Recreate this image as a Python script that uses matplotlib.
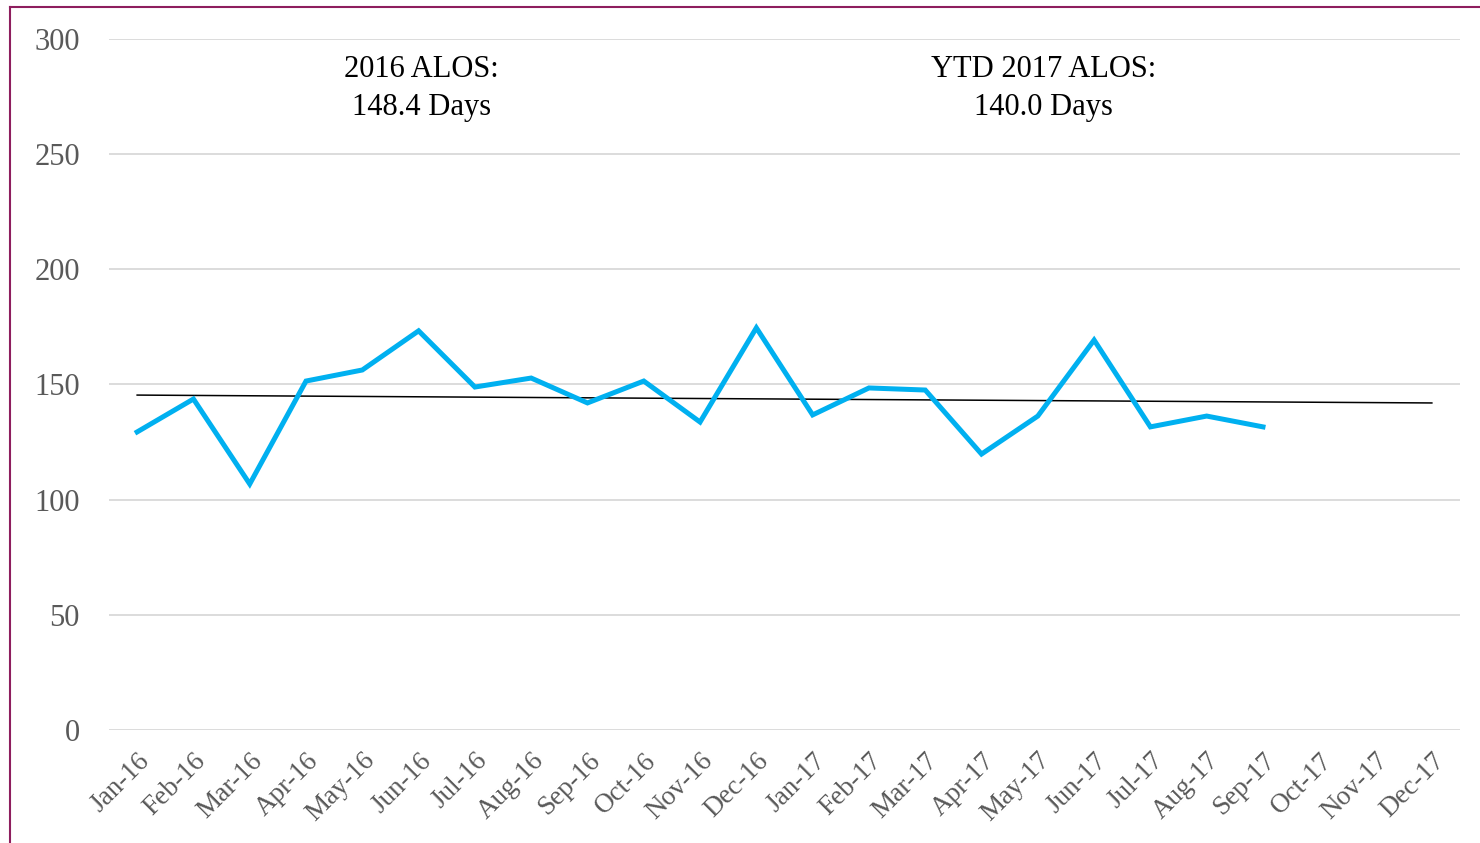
import matplotlib.pyplot as plt
import numpy as np

# monthly ALOS values (days), Jan-16 .. Sep-17
months = ["Jan-16", "Feb-16", "Mar-16", "Apr-16", "May-16", "Jun-16",
          "Jul-16", "Aug-16", "Sep-16", "Oct-16", "Nov-16", "Dec-16",
          "Jan-17", "Feb-17", "Mar-17", "Apr-17", "May-17", "Jun-17",
          "Jul-17", "Aug-17", "Sep-17", "Oct-17", "Nov-17", "Dec-17"]
alos = [129.4, 143.7, 106.8, 151.5, 156.3, 173.3,
        148.9, 152.8, 142.0, 151.5, 133.7, 174.6,
        136.8, 148.5, 147.6, 119.8, 136.3, 169.3,
        131.6, 136.3, 131.6]
yticks = [0, 50, 100, 150, 200, 250, 300]
note_2016 = "2016 ALOS:\n148.4 Days"
note_2017 = "YTD 2017 ALOS:\n140.0 Days"

plt.rcParams['font.family'] = ['Liberation Serif', 'DejaVu Serif']

fig = plt.figure(figsize=(14.8, 8.43), dpi=100)
ax = fig.add_axes([109/1480, 1-730/843, (1460-109)/1480, (730-39)/843])

x = np.arange(len(alos))
ax.plot(x, alos, color="#00B0F0", linewidth=3.6, solid_joinstyle="miter", zorder=3)

# linear trendline (excel style) extended over all months
xt = np.arange(len(months))
coef = np.polyfit(x, alos, 1)
ax.plot(xt, np.polyval(coef, xt), color="black", linewidth=1.1, zorder=2)

ax.set_xlim(-0.5, len(months) - 0.5)
ax.set_ylim(0, 300)
ax.set_yticks(yticks)
ax.set_xticks(xt)
ax.set_xticklabels(months, rotation=45, ha="right", rotation_mode="anchor",
                   fontsize=19.5, color="#595959")
ax.tick_params(axis="y", labelsize=22, labelcolor="#595959", length=0, pad=21)
ax.tick_params(axis="x", length=0, pad=13)
ax.grid(axis="y", color="#D9D9D9", linewidth=1.3)
ax.set_axisbelow(True)
for s in ax.spines.values():
    s.set_visible(False)

ax.text(5.05, 278.5, note_2016, ha="center", va="center", fontsize=22,
        linespacing=1.45)
ax.text(16.1, 278.5, note_2017, ha="center", va="center", fontsize=22,
        linespacing=1.45)

# outer frame (only left and top visible)
fig.add_artist(plt.Line2D([10/1480, 10/1480], [0, 1-7/843], color="#8E1E5E",
                          linewidth=1.5, transform=fig.transFigure))
fig.add_artist(plt.Line2D([10/1480, 1], [1-7/843, 1-7/843], color="#8E1E5E",
                          linewidth=1.5, transform=fig.transFigure))

fig.savefig("out.png", dpi=100)
